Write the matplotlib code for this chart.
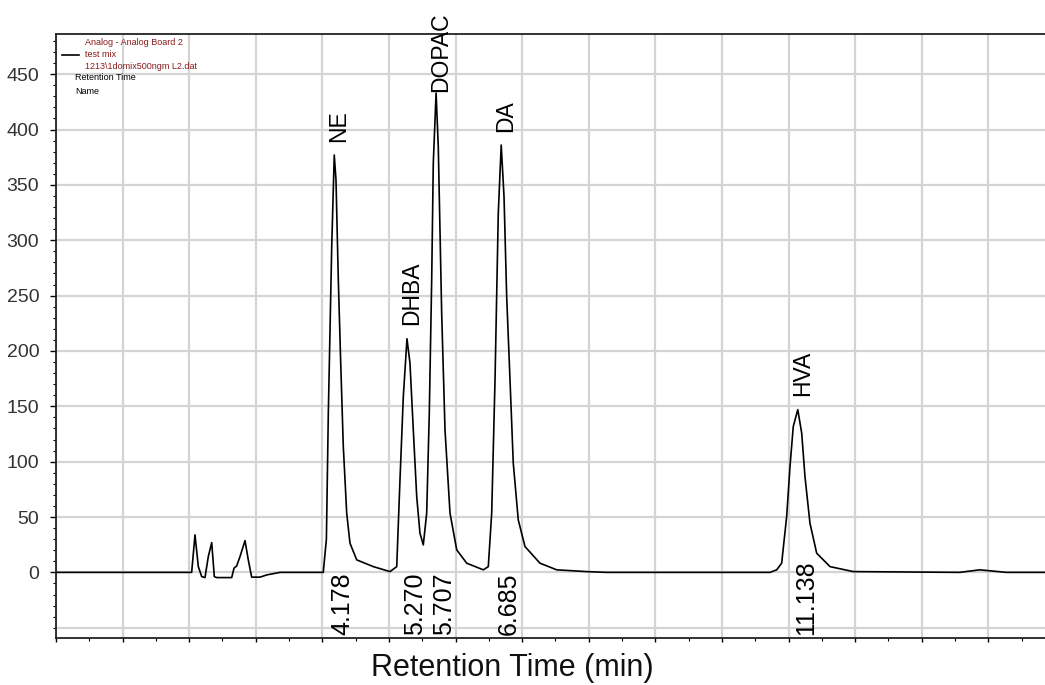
import matplotlib
matplotlib.use("Agg")
import matplotlib.pyplot as plt
from matplotlib.ticker import MultipleLocator
from matplotlib.lines import Line2D

plt.rcParams['font.family'] = ['Liberation Sans', 'DejaVu Sans']

# Chromatogram trace (time in min, signal)
time_min = [0.0, 2.037, 2.087, 2.137, 2.188, 2.237, 2.287, 2.338, 2.377, 2.413,
            2.638, 2.673, 2.713, 2.763, 2.838, 2.887, 2.938, 3.063, 3.164, 3.363,
            4.013, 4.060, 4.089, 4.140, 4.178, 4.204, 4.239, 4.275, 4.314, 4.365,
            4.414, 4.515, 4.764, 5.015, 5.116, 5.165, 5.215, 5.270, 5.315, 5.365,
            5.416, 5.465, 5.515, 5.566, 5.605, 5.641, 5.665, 5.707, 5.740, 5.791,
            5.841, 5.916, 6.017, 6.167, 6.416, 6.491, 6.542, 6.592, 6.641, 6.685,
            6.727, 6.767, 6.817, 6.866, 6.941, 7.042, 7.267, 7.518, 7.968, 8.269,
            10.721, 10.821, 10.896, 10.971, 11.021, 11.070, 11.138, 11.197, 11.246,
            11.321, 11.422, 11.622, 11.971, 13.570, 13.870, 14.270, 14.850]
signal = [0.0, 0.0, 33.9, 5.2, -3.8, -4.7, 14.3, 26.9, -3.8, -4.7,
          -4.7, 3.8, 5.9, 14.3, 28.7, 11.3, -4.3, -4.3, -2.3, 0.0,
          0.0, 30.0, 143.8, 294.3, 377.0, 354.6, 264.2, 189.0, 113.6, 53.5,
          26.4, 11.3, 5.2, 0.7, 5.2, 83.6, 158.8, 211.0, 189.0, 128.7,
          68.5, 35.4, 24.8, 53.5, 143.8, 264.2, 369.6, 433.0, 384.6, 234.1,
          128.7, 53.5, 20.3, 8.3, 2.3, 5.2, 53.5, 173.9, 324.5, 386.0,
          339.5, 249.1, 173.9, 98.6, 47.4, 23.3, 8.3, 2.3, 0.7, 0.0,
          0.0, 2.3, 8.3, 50.4, 95.6, 131.7, 147.0, 125.7, 86.5,
          44.4, 17.3, 5.2, 0.7, 0.0, 2.3, 0.0, 0.0]

peak_names = ["NE", "DHBA", "DOPAC", "DA", "HVA"]
peak_times = [4.178, 5.270, 5.707, 6.685, 11.138]
peak_heights = [377, 211, 433, 386, 147]
rt_labels = ["4.178", "5.270", "5.707", "6.685", "11.138"]
y_ticks = [0, 50, 100, 150, 200, 250, 300, 350, 400, 450]
legend_red = ["Analog - Analog Board 2", "test mix", "1213\\1domix500ngm L2.dat"]
legend_black = ["Retention Time", "Name"]
x_label = "Retention Time (min)"

W, H = 1045, 685
fig = plt.figure(figsize=(W / 100, H / 100), dpi=100)
ax = fig.add_axes([56 / W, 1 - 637.7 / H, 1 - 56 / W, (637.7 - 34.3) / H])

ax.plot(time_min, signal, color='black', lw=1.2, zorder=3)

ax.set_xlim(0, 14.85)
ax.set_ylim(-59, 486)

ax.xaxis.set_major_locator(MultipleLocator(1))
ax.xaxis.set_minor_locator(MultipleLocator(0.5))
ax.set_yticks(y_ticks)
ax.yaxis.set_minor_locator(MultipleLocator(10))
ax.set_xticklabels([])
ax.grid(True, which='major', color='#d4d4d4', lw=1.6, zorder=0)
ax.axhline(-50, color='#d4d4d4', lw=1.6, zorder=0)

ax.tick_params(axis='y', which='major', length=4, width=1, labelsize=14,
               labelcolor='#333333', pad=8, direction='out')
ax.tick_params(axis='y', which='minor', length=2, width=0.8)
ax.tick_params(axis='x', which='major', length=3, width=1)
ax.tick_params(axis='x', which='minor', length=2, width=0.8)

for s in ['left', 'top', 'bottom']:
    ax.spines[s].set_color('#222222')
    ax.spines[s].set_linewidth(1.3)
ax.spines['right'].set_visible(False)

# Peak names (shifted down if they would leave the figure)
renderer = fig.canvas.get_renderer()
for name, t, h in zip(peak_names, peak_times, peak_heights):
    txt = ax.text(t + 0.07, h + 12, name, rotation=90, ha='center', va='bottom',
                  fontsize=16.5, color='black', zorder=4)
    bb = txt.get_window_extent(renderer)
    limit = H - 13
    if bb.y1 > limit:
        shift = bb.y1 - limit
        x0, y0 = ax.transData.transform((t + 0.07, h + 12))
        _, ynew = ax.transData.inverted().transform((x0, y0 - shift))
        txt.set_position((t + 0.07, ynew))

# Retention time labels
for lab, t in zip(rt_labels, peak_times):
    ax.text(t + 0.12, -57, lab, rotation=90, ha='center', va='bottom',
            fontsize=18, color='black', zorder=4)

# Legend
handle = Line2D([], [], color='black', lw=1.2)
leg = ax.legend([handle], ["\n".join(legend_red)], loc='upper left',
                bbox_to_anchor=(0.0, 1.005), frameon=False, fontsize=6.5,
                handlelength=1.9, handletextpad=0.6, borderaxespad=0.3)
for txt in leg.get_texts():
    txt.set_color('#8b1a1a')
    txt.set_linespacing(1.45)
ax.text(0.019, 0.928, legend_black[0], transform=ax.transAxes, fontsize=6.5,
        va='center', ha='left', color='black')
ax.text(0.019, 0.905, legend_black[1], transform=ax.transAxes, fontsize=6.5,
        va='center', ha='left', color='black')

fig.text(512 / W, 1 - 668 / H, x_label, ha='center', va='center',
         fontsize=22, color='#111111')

fig.savefig("out.png", dpi=100)
